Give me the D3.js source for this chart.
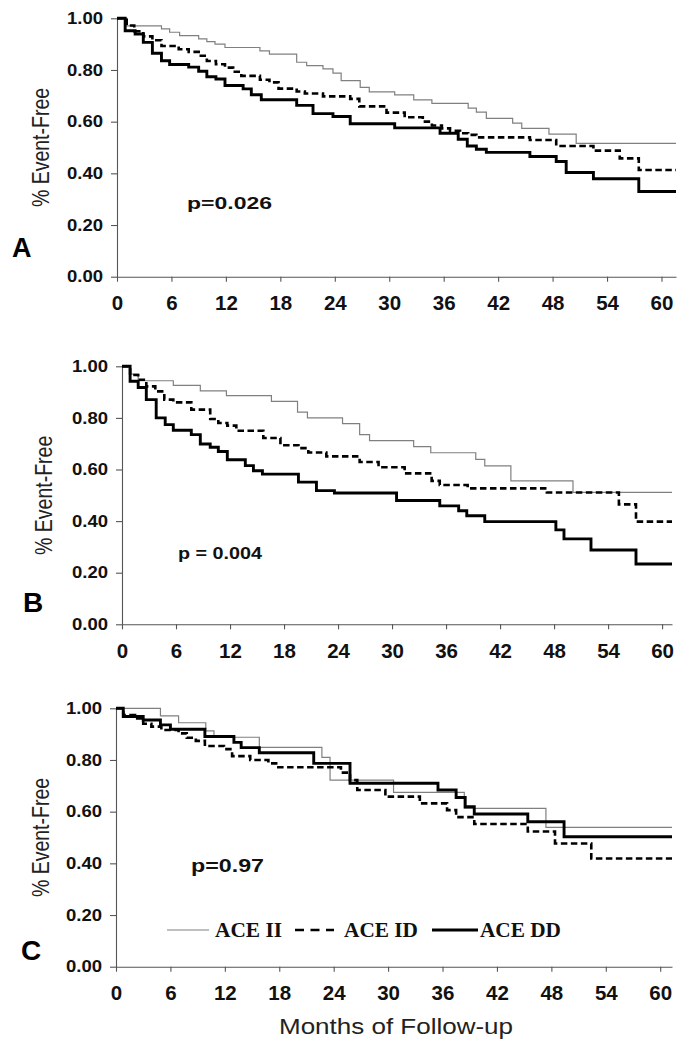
<!DOCTYPE html>
<html>
<head>
<meta charset="utf-8">
<script src="https://cdn.jsdelivr.net/npm/d3@7"></script>
<style>
  html, body { margin: 0; padding: 0; background: #fff; }
  svg { display: block; }
</style>
</head>
<body>
<svg id="chart" width="690" height="1050"></svg>
<script>
// ---------- DATA ----------
const monthTicks = [0, 6, 12, 18, 24, 30, 36, 42, 48, 54, 60];
const yTicks = [0, 0.2, 0.4, 0.6, 0.8, 1.0];
const seriesNames = ["ACE II", "ACE ID", "ACE DD"];
const panelLetters = ["A", "B", "C"];
const pValues = ["p=0.026", "p = 0.004", "p=0.97"];

// Panel A  [month, event-free proportion] step points
const A_II = [[0,1],[1.07,0.971],[4.9,0.959],[5.8,0.946],[6.9,0.933],[9.0,0.920],[9.9,0.910],[10.8,0.900],[11.9,0.887],[15.75,0.874],[16.8,0.861],[19.8,0.830],[20.9,0.817],[22.7,0.804],[23.8,0.788],[24.7,0.759],[26.8,0.733],[27.8,0.715],[30.6,0.704],[32.7,0.684],[34.7,0.671],[38.7,0.652],[39.6,0.637],[40.7,0.613],[43.6,0.594],[44.6,0.574],[47.6,0.552],[50.6,0.516]];
const A_ID = [[0,1],[1.07,0.972],[1.9,0.95],[2.9,0.93],[3.9,0.915],[4.9,0.893],[6.8,0.880],[7.9,0.870],[9.0,0.855],[9.9,0.835],[10.9,0.822],[11.9,0.809],[12.8,0.793],[13.7,0.777],[15.75,0.762],[16.8,0.752],[17.8,0.728],[19.8,0.717],[20.7,0.709],[22.7,0.698],[25.7,0.688],[26.7,0.659],[29.7,0.635],[31.7,0.617],[33.7,0.600],[34.7,0.585],[35.8,0.574],[36.7,0.565],[37.8,0.555],[38.7,0.549],[39.6,0.539],[45.5,0.529],[48.4,0.506],[52.5,0.488],[55.4,0.458],[57.5,0.413]];
const A_DD = [[0,1],[0.9,0.952],[2.0,0.939],[2.9,0.907],[3.9,0.865],[4.9,0.836],[5.8,0.821],[7.9,0.811],[9.0,0.795],[9.9,0.774],[10.9,0.765],[11.9,0.740],[13.9,0.727],[14.8,0.704],[15.9,0.685],[19.8,0.663],[21.6,0.631],[23.8,0.620],[25.7,0.592],[30.6,0.576],[35.6,0.555],[37.6,0.532],[38.6,0.506],[39.6,0.493],[40.7,0.481],[45.5,0.465],[48.4,0.446],[49.5,0.403],[52.5,0.379],[57.5,0.330]];

// Panel B
const B_II = [[0,1],[0.9,0.97],[1.8,0.944],[5.7,0.926],[8.7,0.905],[11.6,0.886],[16.6,0.864],[19.5,0.822],[20.6,0.800],[24.5,0.778],[26.4,0.735],[27.5,0.712],[32.4,0.689],[34.3,0.665],[39.3,0.639],[40.3,0.614],[43.2,0.556],[50.1,0.511]];
const B_ID = [[0,1],[0.9,0.966],[1.8,0.948],[2.7,0.922],[3.7,0.903],[4.7,0.871],[5.7,0.860],[7.7,0.832],[9.8,0.796],[10.7,0.780],[11.7,0.770],[12.7,0.750],[15.7,0.722],[17.6,0.694],[19.6,0.683],[20.7,0.666],[22.7,0.651],[26.4,0.629],[28.5,0.609],[31.4,0.585],[34.4,0.556],[35.3,0.540],[38.4,0.527],[47.2,0.511],[55.2,0.465],[57.1,0.398]];
const B_DD = [[0,1],[0.9,0.942],[1.8,0.918],[2.7,0.871],[3.8,0.800],[4.8,0.774],[5.7,0.752],[7.7,0.735],[8.7,0.699],[9.8,0.686],[10.7,0.670],[11.7,0.638],[13.7,0.615],[14.6,0.595],[15.6,0.582],[19.6,0.551],[21.6,0.518],[23.6,0.509],[30.5,0.480],[35.3,0.459],[37.4,0.440],[38.3,0.421],[40.3,0.398],[48.2,0.366],[49.1,0.331],[52.1,0.288],[57.1,0.234]];

// Panel C
const C_II = [[0,1],[4.9,0.971],[6.9,0.944],[9.9,0.913],[10.8,0.888],[15.8,0.849],[22.7,0.810],[23.6,0.722],[30.6,0.675],[38.4,0.613],[47.4,0.539]];
const C_ID = [[0,1],[0.8,0.974],[2.1,0.961],[3.0,0.940],[3.9,0.929],[5.0,0.916],[6.9,0.903],[7.8,0.886],[8.8,0.874],[9.8,0.854],[11.9,0.842],[12.8,0.815],[14.8,0.800],[16.8,0.787],[17.9,0.772],[24.8,0.751],[25.8,0.722],[26.6,0.684],[29.7,0.658],[33.5,0.632],[36.5,0.606],[37.5,0.579],[39.5,0.552],[45.4,0.523],[48.4,0.477],[52.4,0.419]];
const C_DD = [[0,1],[0.8,0.968],[3.0,0.955],[4.9,0.936],[6.0,0.919],[9.8,0.891],[13.0,0.868],[13.8,0.848],[15.8,0.828],[21.8,0.787],[25.8,0.710],[35.5,0.684],[37.5,0.655],[38.5,0.619],[39.5,0.591],[45.4,0.561],[49.4,0.503]];

// ---------- LAYOUT ----------
const layout = [
  { x0: 117, x1: 676, xMax: 61.6, yTop: 18.3, yBot: 276.7, letterX: 12, letterY: 257, letterSize: 27,
    titleX: 49, pX: 187, pY: 208.5, pSize: 17, pLen: 85 },
  { x0: 122, x1: 672, xMax: 61.1, yTop: 366.3, yBot: 624.3, letterX: 23, letterY: 611.5, letterSize: 28,
    titleX: 52, pX: 178, pY: 558.5, pSize: 16, pLen: 84 },
  { x0: 116, x1: 672, xMax: 61.3, yTop: 708.3, yBot: 966.7, letterX: 21, letterY: 960, letterSize: 28,
    titleX: 49, pX: 191, pY: 871.5, pSize: 18.5, pLen: 73 }
];
const panelData = [[A_II, A_ID, A_DD], [B_II, B_ID, B_DD], [C_II, C_ID, C_DD]];

const styles = [
  { stroke: "#808080", width: 1.2, dash: null, legendDash: null },
  { stroke: "#000", width: 2.6, dash: "6.5,3.5", legendDash: "9,6.5" },
  { stroke: "#000", width: 2.9, dash: null, legendDash: null }
];

const svg = d3.select("#chart");
const SANS = "'Liberation Sans', Arial, Helvetica, sans-serif";

layout.forEach((L, i) => {
  const x = d3.scaleLinear().domain([0, L.xMax]).range([L.x0, L.x1]);
  const y = d3.scaleLinear().domain([0, 1]).range([L.yBot, L.yTop]);
  const g = svg.append("g");

  // y axis
  const yAxis = g.append("g").attr("transform", `translate(${L.x0},0)`)
    .call(d3.axisLeft(y).tickValues(yTicks).tickFormat(d3.format(".2f")).tickSize(6).tickSizeOuter(0).tickPadding(8));
  yAxis.select(".domain").attr("stroke", "#555").attr("stroke-width", 1.1);
  yAxis.selectAll(".tick line").attr("stroke", "#555").attr("stroke-width", 1.1);
  yAxis.selectAll(".tick text")
    .attr("font-family", SANS).attr("font-weight", "bold").attr("font-size", 16.5)
    .attr("fill", "#111")
    .attr("textLength", 36).attr("lengthAdjust", "spacingAndGlyphs");

  // x axis
  const xAxis = g.append("g").attr("transform", `translate(0,${L.yBot})`)
    .call(d3.axisBottom(x).tickValues(monthTicks).tickFormat(d3.format("d")).tickSize(5).tickSizeOuter(0).tickPadding(14));
  xAxis.select(".domain").attr("stroke", "#555").attr("stroke-width", 1.1);
  xAxis.selectAll(".tick line").attr("stroke", "#555").attr("stroke-width", 1.1);
  xAxis.selectAll(".tick text")
    .attr("font-family", SANS).attr("font-weight", "bold").attr("font-size", 20.5)
    .attr("fill", "#111");

  // curves
  const line = d3.line().x(d => x(d[0])).y(d => y(d[1])).curve(d3.curveStepAfter);
  panelData[i].forEach((series, s) => {
    const pts = series.concat([[L.xMax, series[series.length - 1][1]]]);
    const st = styles[s];
    g.append("path")
      .datum(pts)
      .attr("d", line)
      .attr("fill", "none")
      .attr("stroke", st.stroke)
      .attr("stroke-width", st.width)
      .attr("stroke-dasharray", st.dash)
      .attr("stroke-linejoin", "miter")
      .attr("stroke-linecap", "butt");
  });

  // y title
  const cy = (L.yTop + L.yBot) / 2;
  g.append("text")
    .attr("transform", `translate(${L.titleX},${cy}) scale(1.25,1) rotate(-90)`)
    .attr("text-anchor", "middle")
    .attr("font-family", SANS).attr("font-size", 19.5).attr("fill", "#222")
    .text("% Event-Free");

  // panel letter
  g.append("text")
    .attr("x", L.letterX).attr("y", L.letterY)
    .attr("font-family", SANS).attr("font-weight", "bold").attr("font-size", L.letterSize)
    .attr("fill", "#000")
    .text(panelLetters[i]);

  // p value
  g.append("text")
    .attr("x", L.pX).attr("y", L.pY)
    .attr("font-family", SANS).attr("font-weight", "bold").attr("font-size", L.pSize)
    .attr("fill", "#111")
    .attr("textLength", L.pLen).attr("lengthAdjust", "spacingAndGlyphs")
    .text(pValues[i]);
});

// legend (panel C)
const legendItems = [
  { x1: 167, x2: 209, tx: 215, tlen: 67 },
  { x1: 295, x2: 334, tx: 344, tlen: 74 },
  { x1: 432, x2: 478, tx: 480, tlen: 81 }
];
const lg = svg.append("g");
legendItems.forEach((it, s) => {
  const st = styles[s];
  lg.append("line")
    .attr("x1", it.x1).attr("x2", it.x2).attr("y1", 930).attr("y2", 930)
    .attr("stroke", st.stroke).attr("stroke-width", st.width)
    .attr("stroke-dasharray", st.legendDash);
  lg.append("text")
    .attr("x", it.tx).attr("y", 937)
    .attr("font-family", "'Liberation Serif', 'Times New Roman', serif")
    .attr("font-weight", "bold").attr("font-size", 20.5).attr("fill", "#111")
    .attr("textLength", it.tlen).attr("lengthAdjust", "spacingAndGlyphs")
    .text(seriesNames[s]);
});

// x title
svg.append("text")
  .attr("x", 279).attr("y", 1034)
  .attr("font-family", SANS).attr("font-size", 22).attr("fill", "#222")
  .attr("textLength", 234).attr("lengthAdjust", "spacingAndGlyphs")
  .text("Months of Follow-up");
</script>
</body>
</html>
